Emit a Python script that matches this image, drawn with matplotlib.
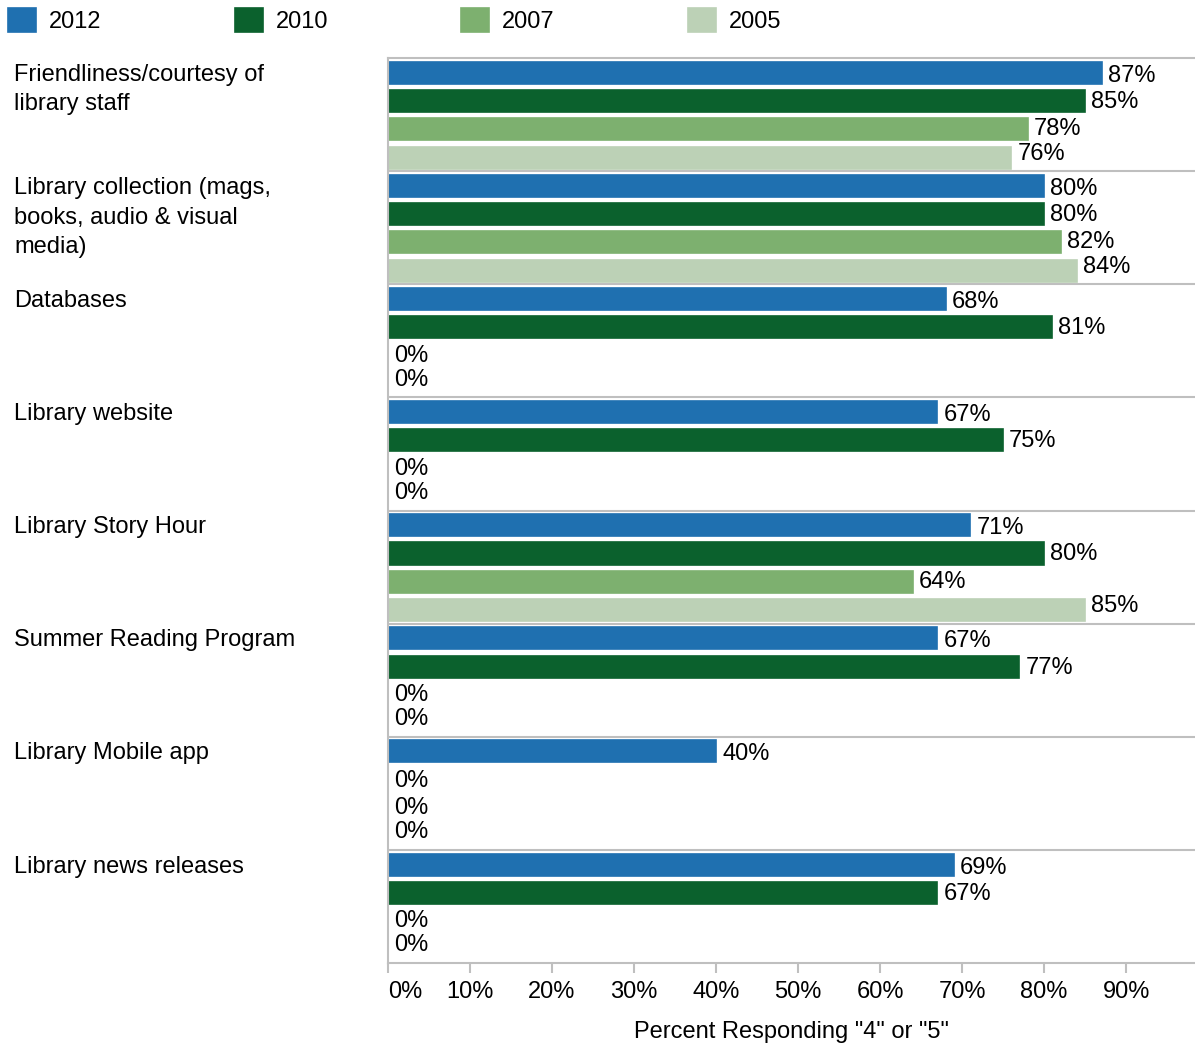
import numpy as np
import matplotlib
matplotlib.use("Agg")
import matplotlib.pyplot as plt
from matplotlib.transforms import blended_transform_factory, offset_copy

plt.rcParams['font.family'] = ['Liberation Sans Narrow', 'Liberation Sans', 'DejaVu Sans']
plt.rcParams['font.size'] = 17

categories = [
    "Friendliness/courtesy of\nlibrary staff",
    "Library collection (mags,\nbooks, audio & visual\nmedia)",
    "Databases",
    "Library website",
    "Library Story Hour",
    "Summer Reading Program",
    "Library Mobile app",
    "Library news releases",
]
years = ["2012", "2010", "2007", "2005"]
colors = ["#1f70b0", "#0b612d", "#7db06f", "#bcd1b6"]

pct_2012 = [87, 80, 68, 67, 71, 67, 40, 69]
pct_2010 = [85, 80, 81, 75, 80, 77, 0, 67]
pct_2007 = [78, 82, 0, 0, 64, 0, 0, 0]
pct_2005 = [76, 84, 0, 0, 85, 0, 0, 0]
series = [pct_2012, pct_2010, pct_2007, pct_2005]

# small vertical nudges (px) for value labels, per slot within a group
label_nudge = [3, 1, 0, -4]

W, H = 1195, 1044
fig = plt.figure(figsize=(W / 100, H / 100), dpi=100)
ax = fig.add_axes([388 / W, 1 - 963 / H, 1 - 388 / W, (963 - 58) / H])

grid_col = "#bfbfbf"
n = len(categories)
idx = np.arange(n)
slot = 0.25
bar_h = 0.195

bars = []
for j, (vals, col, yr) in enumerate(zip(series, colors, years)):
    vals = np.array(vals) / 100.0
    ypos = idx + 0.13 + slot * j
    b = ax.barh(ypos, vals, height=bar_h, color=col, edgecolor=col,
                linewidth=1.2, label=yr)
    bars.append(b)
    for y, v in zip(ypos, vals):
        tr = offset_copy(ax.transData, fig=fig, x=6 * 0.72,
                         y=-label_nudge[j] * 0.72, units='points')
        ax.text(v, y, f"{v * 100:.0f}%", transform=tr, ha='left',
                va='center', fontsize=17, color='black')

# separators between groups
for k in range(1, n):
    ax.axhline(k, color=grid_col, lw=1.5, zorder=0)

ax.set_ylim(n, 0)
ax.set_xlim(0, 0.984)
ax.set_yticks([])
ax.set_xticks(np.arange(0, 1.0, 0.1))
ax.set_xticklabels([f"{t}%" for t in range(0, 100, 10)])
ax.tick_params(axis='x', length=7, width=1.5, color=grid_col, pad=6,
               labelsize=17)
ax.get_xticklabels()[0].set_horizontalalignment('left')
ax.get_xticklabels()[0].set_x(0.008)
for s in ['left', 'top', 'bottom']:
    ax.spines[s].set_color(grid_col)
    ax.spines[s].set_linewidth(1.5)
ax.spines['right'].set_visible(False)

ax.set_xlabel('Percent Responding "4" or "5"', fontsize=17)
ax.xaxis.set_label_coords(0.5, -0.064)

# category labels on the left
tr = blended_transform_factory(fig.transFigure, ax.transData)
for k, cat in enumerate(categories):
    ax.text(14 / W, k + 0.05, cat, transform=tr, ha='left', va='top',
            fontsize=17, linespacing=1.46, clip_on=False)

fig.legend(handles=bars, labels=years, loc='upper left',
           bbox_to_anchor=(8 / W, 1 - 8 / H), ncol=4, frameon=False,
           borderpad=0, borderaxespad=0, handlelength=1.2,
           handleheight=1.2, handletextpad=0.55, columnspacing=5.62,
           fontsize=17)

fig.savefig("out.png", dpi=100)
